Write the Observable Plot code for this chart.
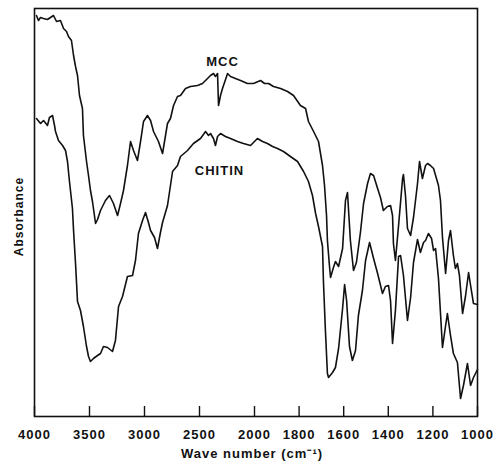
<!DOCTYPE html>
<html>
<head>
<meta charset="utf-8">
<script src="https://cdn.jsdelivr.net/npm/d3@7"></script>
<script src="https://cdn.jsdelivr.net/npm/@observablehq/plot@0.6"></script>
<style>
  body { margin: 0; background: #fff; }
  svg text { letter-spacing: 1px; }
</style>
</head>
<body>
<div id="chart"></div>
<script>
// Wavenumbers (cm-1) and relative absorbance (arbitrary units)
const mccWave = [3982,3964,3945,3918,3882,3855,3827,3800,3764,3736,3709,3691,3664,3645,3627,3609,3591,3564,3555,3527,3509,3491,3473,3455,3445,3427,3400,3355,3318,3282,3245,3218,3191,3155,3127,3100,3064,3036,3009,2973,2945,2918,2873,2836,2809,2791,2764,2736,2700,2673,2627,2582,2518,2473,2427,2400,2373,2355,2336,2327,2309,2291,2245,2218,2173,2127,2064,2009,1973,1955,1937,1915,1883,1852,1825,1794,1771,1758,1735,1713,1695,1686,1677,1673,1664,1659,1646,1637,1623,1605,1592,1583,1570,1556,1543,1525,1511,1493,1480,1466,1448,1435,1422,1404,1390,1381,1377,1368,1354,1336,1332,1323,1314,1300,1287,1269,1260,1247,1233,1224,1211,1197,1184,1175,1166,1157,1143,1130,1121,1108,1099,1090,1081,1067,1054,1040,1031,1018,1000];
const mccAbs = [401,396,399,398,397,399,401,395,396,388,385,380,376,361,350,341,321,308,281,255,241,226,215,201,193,197,206,216,221,213,201,213,226,251,275,266,256,275,295,301,296,285,275,263,281,293,298,311,320,321,328,330,331,333,338,341,343,340,343,311,321,328,343,340,338,336,333,333,336,333,333,330,328,325,321,311,308,295,285,275,251,231,201,176,151,139,149,155,150,168,216,224,176,146,154,184,213,233,243,241,228,219,206,210,211,201,173,156,191,238,242,221,188,181,199,233,255,238,251,253,251,248,238,231,216,179,143,176,186,161,148,153,141,103,120,144,131,113,112];

const chitinWave = [3982,3945,3918,3882,3864,3836,3818,3809,3782,3745,3718,3700,3682,3655,3645,3627,3609,3582,3555,3527,3509,3491,3464,3427,3400,3373,3336,3291,3264,3236,3200,3155,3109,3082,3055,3018,2991,2964,2945,2909,2882,2855,2836,2791,2745,2700,2673,2609,2555,2491,2445,2418,2400,2373,2355,2336,2309,2264,2218,2155,2100,2036,1987,1964,1942,1919,1897,1870,1839,1807,1780,1758,1740,1726,1713,1695,1691,1682,1673,1668,1650,1637,1623,1605,1596,1587,1574,1561,1547,1534,1516,1502,1484,1466,1448,1426,1413,1399,1390,1381,1368,1354,1345,1332,1314,1300,1287,1269,1256,1242,1233,1220,1206,1197,1188,1175,1157,1143,1135,1121,1108,1090,1076,1063,1045,1031,1018,1000];
const chitinAbs = [298,293,296,291,299,301,291,285,276,271,266,255,235,208,186,153,115,106,90,70,60,55,58,61,63,70,69,65,76,110,120,140,141,156,183,196,204,194,186,179,168,184,194,211,245,251,260,266,273,278,285,281,283,278,271,280,283,280,278,275,273,271,278,275,273,270,268,265,260,255,245,235,221,203,190,170,136,86,43,39,44,49,68,108,132,116,70,56,66,101,126,156,174,158,143,123,130,131,116,73,106,160,161,141,96,119,154,177,164,174,176,183,178,166,168,138,69,91,103,81,63,54,18,31,53,31,39,47];

const seriesNames = ["MCC", "CHITIN"];
const labelWave = [2291, 2318];
const labelAbs = [355, 246];

const xTicks = [4000, 3500, 3000, 2500, 2000, 1800, 1600, 1400, 1200, 1000];
const xTickLabels = ["4000", "3500", "3000", "2500", "2000", "1800", "1600", "1400", "1200", "1000"];

const mcc = mccWave.map((w, i) => ({wave: w, abs: mccAbs[i], series: "MCC"}));
const chitin = chitinWave.map((w, i) => ({wave: w, abs: chitinAbs[i], series: "CHITIN"}));
const labels = seriesNames.map((n, i) => ({name: n, wave: labelWave[i], abs: labelAbs[i]}));

const W = 504, H = 466, mT = 8, mB = 50, mL = 34, mR = 27;

const chart = Plot.plot({
  width: W,
  height: H,
  marginTop: mT,
  marginBottom: mB,
  marginLeft: mL,
  marginRight: mR,
  style: {fontFamily: "'Liberation Sans', Arial, sans-serif", fontSize: "13px", color: "#111", background: "#fff"},
  x: {type: "linear", domain: [4000, 2000, 1000], range: [mL, 254, W - mR], axis: null},
  y: {domain: [0, 408], axis: null},
  marks: [
    Plot.frame({stroke: "#111", strokeWidth: 1.6}),
    Plot.tickX(xTicks, {x: d => d, stroke: "#111", strokeWidth: 1.4, insetTop: H - mT - mB - 10}),
    Plot.axisX(xTicks, {tickSize: 0, tickPadding: 13, tickFormat: d => xTickLabels[xTicks.indexOf(d)], fontWeight: "bold", fontSize: 13, fill: "#111", label: null}),
    Plot.line(mcc, {x: "wave", y: "abs", stroke: "#111", strokeWidth: 1.6, strokeLinejoin: "round"}),
    Plot.line(chitin, {x: "wave", y: "abs", stroke: "#111", strokeWidth: 1.6, strokeLinejoin: "round"}),
    Plot.text(labels, {x: "wave", y: "abs", text: "name", fontWeight: "bold", fontSize: 13, fill: "#111"}),
    Plot.text(["Wave number (cm⁻¹)"], {frameAnchor: "bottom", dy: 41, dx: -4, fontWeight: "bold", fontSize: 13, fill: "#111"}),
    Plot.text(["Absorbance"], {frameAnchor: "left", textAnchor: "middle", rotate: -90, dx: -15, dy: 4, fontWeight: "bold", fontSize: 12, fill: "#111"})
  ]
});
document.getElementById("chart").appendChild(chart);
</script>
</body>
</html>
